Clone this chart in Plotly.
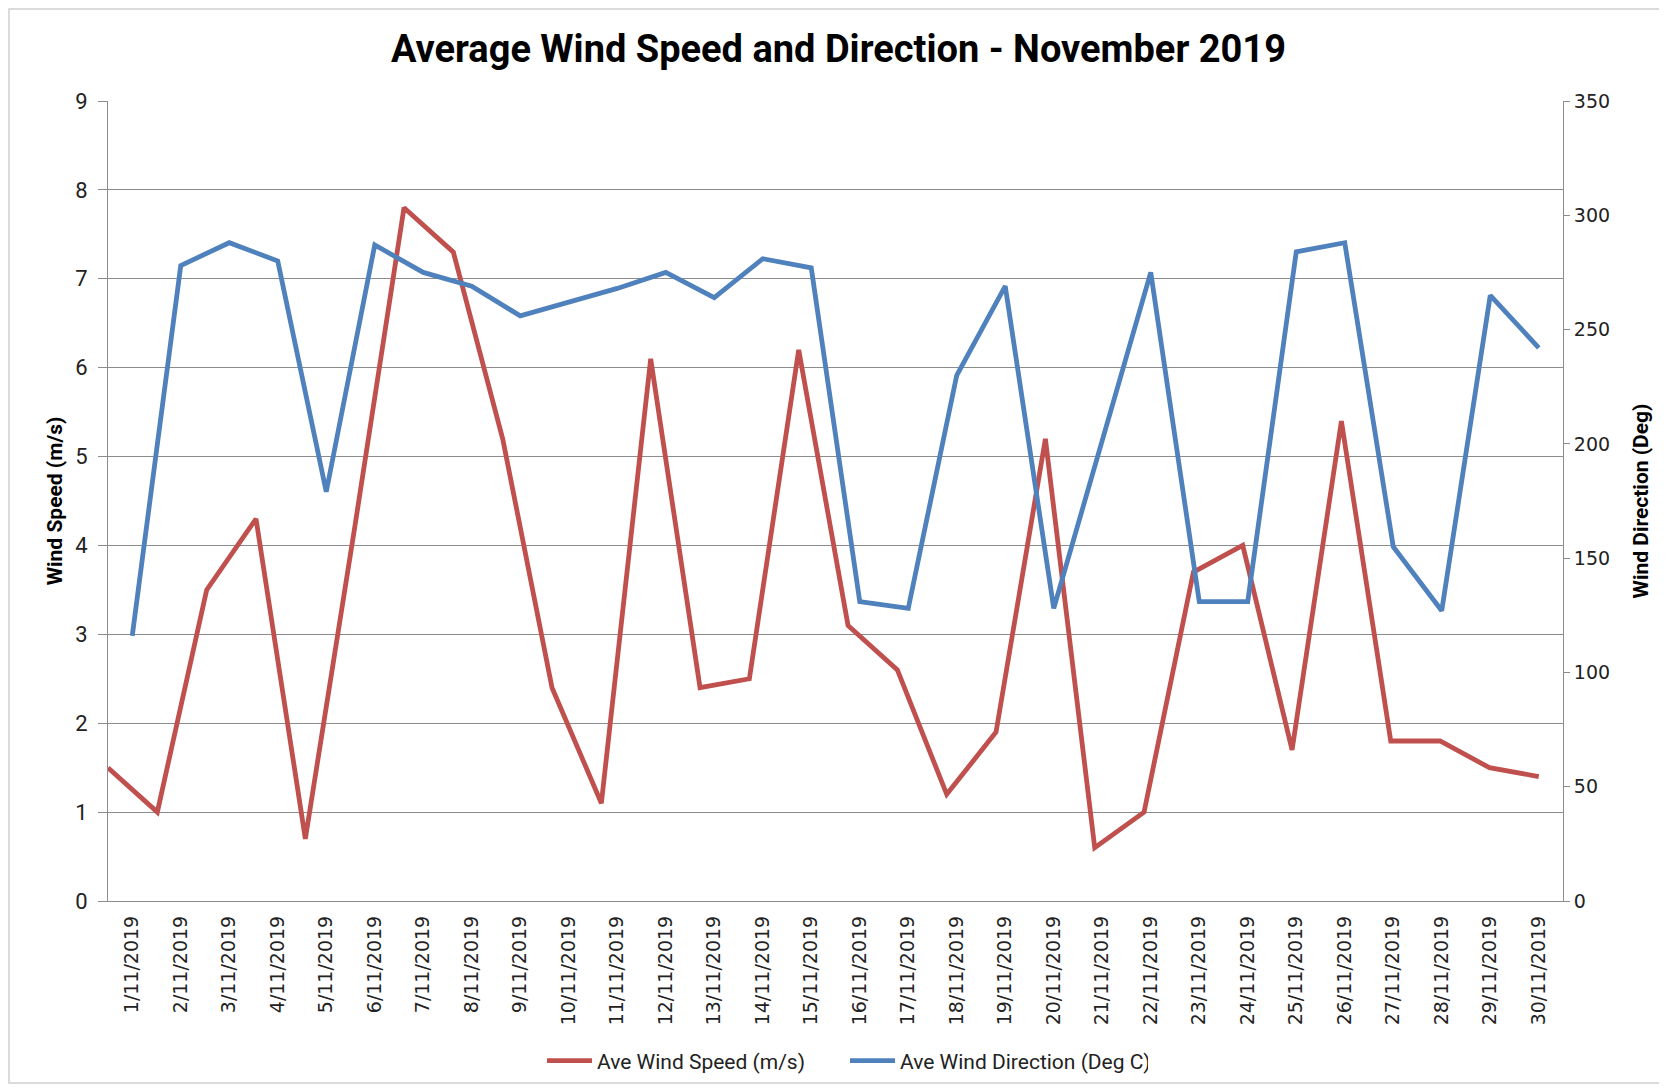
import plotly.graph_objects as go

dates = [f"{d}/11/2019" for d in range(1, 31)]
wind_speed = [1.5, 1.0, 3.5, 4.3, 0.7, 4.2, 7.8, 7.3, 5.2, 2.4,
              1.1, 6.1, 2.4, 2.5, 6.2, 3.1, 2.6, 1.2, 1.9, 5.2,
              0.6, 1.0, 3.7, 4.0, 1.7, 5.4, 1.8, 1.8, 1.5, 1.4]
wind_dir = [116, 278, 288, 280, 179, 287, 275, 269, 256, 262,
            268, 275, 264, 281, 277, 131, 128, 230, 269, 128,
            201, 275, 131, 131, 284, 288, 155, 127, 265, 242]
speed_ticks = list(range(0, 10))
dir_ticks = list(range(0, 351, 50))

RED = "#C0504D"
BLUE = "#4F81BD"
GRID = "#8C8C8C"

# figure is placed at (8, 8) in the page by the default body margin
W, H = 1651, 1076
L, R, T, B = 100, 1555, 93, 893

fig = go.Figure()
fig.add_trace(go.Scatter(
    x=dates, y=wind_speed, name="Ave Wind Speed (m/s)",
    mode="lines", line=dict(color=RED, width=4.8),
    xaxis="x", yaxis="y"))
fig.add_trace(go.Scatter(
    x=dates, y=wind_dir, name="Ave Wind Direction (Deg C)",
    mode="lines", line=dict(color=BLUE, width=4.8),
    xaxis="x2", yaxis="y2"))

n = len(dates)
fig.update_layout(
    width=W, height=H,
    margin=dict(l=L, r=W - R, t=T, b=H - B, pad=0, autoexpand=False),
    paper_bgcolor="white", plot_bgcolor="white",
    title=dict(text="<b>Average Wind Speed and Direction - November 2019</b>",
               x=0.503, xref="container", y=1 - 41 / H, yref="container",
               xanchor="center", yanchor="middle",
               font=dict(family="Roboto", size=38, color="black")),
    xaxis=dict(type="category", categoryorder="array", categoryarray=dates,
               range=[0, (n - 1) * n / (n - 0.5)], showgrid=False,
               showticklabels=False, ticks="", anchor="y", automargin=False,
               showline=True, linecolor=GRID, linewidth=1, zeroline=False),
    xaxis2=dict(type="category", categoryorder="array", categoryarray=dates,
                overlaying="x", anchor="y2", side="bottom", automargin=False,
                range=[-0.5, n - 0.5], tickangle=-90, showgrid=False,
                showline=False, ticks="", ticklabelstandoff=10,
                tickfont=dict(family="DejaVu Sans", size=19, color="#222")),
    yaxis=dict(range=[0, 9], tickvals=speed_ticks, showgrid=True, anchor="x",
               gridcolor=GRID, gridwidth=1, showline=True, linecolor=GRID,
               ticks="outside", ticklen=9, tickcolor=GRID, zeroline=False,
               ticklabelstandoff=6, automargin=False,
               title=dict(text="<b>Wind Speed (m/s)</b>", standoff=6,
                          font=dict(family="Roboto", size=21, color="black")),
               tickfont=dict(family="Roboto", size=22, color="#222")),
    yaxis2=dict(range=[0, 350], tickvals=dir_ticks, overlaying="y",
                anchor="x2", side="right", showgrid=False, showline=True,
                linecolor=GRID, ticks="outside", ticklen=6, tickcolor=GRID,
                zeroline=False, automargin=False,
                title=dict(text="<b>Wind Direction (Deg)</b>", standoff=24,
                           font=dict(family="Roboto", size=21, color="black")),
                tickfont=dict(family="DejaVu Sans", size=19, color="#222")),
    legend=dict(orientation="h", xref="container", yref="container",
                x=(550 - 8 - 8) / W, xanchor="left",
                y=1 - 1053 / H, yanchor="middle",
                font=dict(family="Roboto", size=21, color="#222"),
                itemwidth=45, entrywidth=243, entrywidthmode="pixels",
                traceorder="normal"),
    shapes=[dict(type="rect", xref="paper", yref="paper",
                 x0=(1 - L) / (R - L), x1=(W + 20 - L) / (R - L),
                 y0=(B - (H - 1)) / (B - T), y1=(B - 1) / (B - T),
                 line=dict(color="#D0D0D0", width=1.5), layer="below")],
)

fig.write_html("out.html")
